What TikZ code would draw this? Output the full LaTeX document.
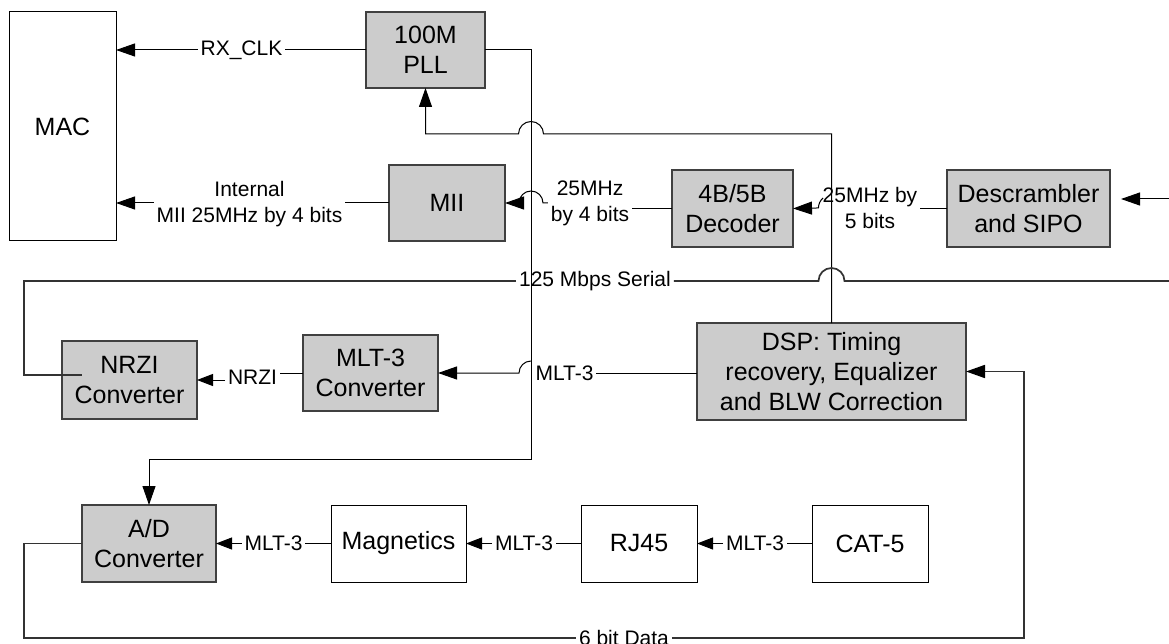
\documentclass[tikz,border=0pt]{standalone}
\usepackage{fontspec}
\setmainfont{Liberation Sans}
\usetikzlibrary{arrows.meta}
\definecolor{fillgray}{RGB}{204,204,204}
\definecolor{boxgray}{RGB}{64,64,64}
\definecolor{busgray}{RGB}{51,51,51}
\begin{document}
\begin{tikzpicture}[x=1pt,y=-1pt,
  gbox/.style={draw=boxgray, fill=fillgray, line width=1.2pt, inner sep=0pt, outer sep=0pt, align=center, font={\fontsize{25}{30}\selectfont}},
  wbox/.style={draw=black, fill=white, line width=1pt, inner sep=0pt, outer sep=0pt, align=center, font={\fontsize{25}{30}\selectfont}},
  lbl/.style={inner xsep=3pt, inner ysep=0pt, outer sep=0pt, align=center, font={\fontsize{21}{26}\selectfont}},
  wire/.style={line width=1pt, draw=black},
  bus/.style={line width=1.7pt, draw=busgray},
  arr/.style={-{Triangle[length=19pt,width=13pt,color=black]}},
  sarr/.style={-{Triangle[length=16pt,width=12pt,color=black]}}]
\useasboundingbox (0,0) rectangle (1169,644);
% boxes
\node[wbox, minimum width=107pt, minimum height=229pt] (mac) at (62.5,126.5) {MAC};
\node[gbox, minimum width=119pt, minimum height=76pt] (pll) at (425.5,50) {100M\\PLL};
\node[gbox, minimum width=116pt, minimum height=76pt] (mii) at (447,203) {MII};
\node[gbox, minimum width=121pt, minimum height=77pt] (dec) at (732.5,208.5) {4B/5B\\Decoder};
\node[gbox, minimum width=163pt, minimum height=77pt] (desc) at (1028.5,208.5) {Descrambler\\and SIPO};
\node[gbox, minimum width=135pt, minimum height=78pt] (nrzi) at (129.5,380) {NRZI\\Converter};
\node[gbox, minimum width=135pt, minimum height=76pt] (mlt) at (370.5,373) {MLT-3\\Converter};
\node[gbox, minimum width=269pt, minimum height=97pt] (dsp) at (831.5,371.5) {DSP: Timing\\recovery, Equalizer\\and BLW Correction};
\node[gbox, minimum width=134pt, minimum height=77pt] (ad) at (149,543.5) {A/D\\Converter};
\node[wbox, minimum width=135pt, minimum height=77pt] (mag) at (398.5,543.5) {Magnetics};
\node[wbox, minimum width=116pt, minimum height=77pt] (rj) at (639,543.5) {RJ45};
\node[wbox, minimum width=116pt, minimum height=77pt] (cat) at (870,543.5) {CAT-5};
% labels
\node[lbl] (lrx) at (241.5,50) {RX\_CLK};
\node[lbl] (lint) at (249.5,204) {Internal\\MII 25MHz by 4 bits};
\node[lbl] (l25a) at (590,203) {25MHz\\by 4 bits};
\node[lbl] (l25b) at (870,208) {25MHz by\\5 bits};
\node[lbl] (l125) at (595,281) {125 Mbps Serial};
\node[lbl] (lnrzi) at (252.5,377) {NRZI};
\node[lbl] (lm1) at (564.5,373) {MLT-3};
\node[lbl] (lm2) at (273.5,543.5) {MLT-3};
\node[lbl] (lm3) at (524,543.5) {MLT-3};
\node[lbl] (lm4) at (755,543.5) {MLT-3};
\node[lbl] (l6) at (624,638) {6 bit Data};
% coordinates
\coordinate (adturn) at (531,459);
\coordinate (fb) at (831.5,134);
\coordinate (serR) at (1169,281);
\coordinate (serL) at (24,281);
\coordinate (serD) at (24,375);
\coordinate (nrziIn) at (82,375);
\coordinate (dl) at (24,638);
\coordinate (dr) at (1024,638);
\coordinate (inR) at (1169,199);
% RX_CLK
\draw[wire] (pll.west) -- (lrx.east);
\draw[wire,arr] (lrx.west) -- (lrx.west -| mac.east);
% MII to MAC
\draw[wire] (mii.west) -- (lint.east |- mii.west);
\draw[wire,arr] (lint.west |- mii.west) -- (mac.east |- mii.west);
% PLL clock to A/D
\draw[wire,arr] (pll.east) -| (adturn) -| (ad.north);
% DSP to PLL
\draw[wire,arr] (dsp.north) -- (fb) -- (543.5,134) arc[start angle=0,end angle=180,radius=12.5pt] -- (pll.south |- fb) -- (pll.south);
% decoder to MII
\draw[wire] (dec.west) -- (l25a.east |- dec.west);
\draw[wire,arr] (l25a.west |- mii.east) -- (543,203) arc[start angle=0,end angle=180,radius=12pt] -- (mii.east);
% descrambler to decoder
\draw[wire] (desc.west) -- (l25b.east |- desc.west);
\draw[wire,arr] (823.1,198.0) arc[start angle=130,end angle=180,radius=13pt] -- (dec.east);
% input to descrambler
\draw[wire,arr,shorten >=11pt] (inR) -- (inR -| desc.east);
% 125 Mbps serial
\draw[bus] (serR) -- (844.5,281) arc[start angle=0,end angle=180,radius=13pt] -- (l125.east);
\draw[bus] (l125.west) -- (serL) -- (serD) -- (nrziIn);
% MLT-3 converter to NRZI
\draw[wire] (mlt.west) -- (lnrzi.east |- mlt.west);
\draw[wire,sarr] (lnrzi.west |- nrzi.east) -- (nrzi.east);
% DSP to MLT-3 converter
\draw[wire] (dsp.west |- lm1.east) -- (lm1.east);
\draw[wire,arr] (531,361) arc[start angle=90,end angle=180,radius=12pt] -- (mlt.east);
% bottom chain
\draw[wire] (cat.west) -- (lm4.east);
\draw[wire,sarr] (lm4.west) -- (rj.east);
\draw[wire] (rj.west) -- (lm3.east);
\draw[wire,sarr] (lm3.west) -- (mag.east);
\draw[wire] (mag.west) -- (lm2.east);
\draw[wire,sarr] (lm2.west) -- (ad.east);
% 6 bit data
\draw[bus] (ad.west) -| (dl) -- (l6.west);
\draw[bus,arr] (l6.east) -- (dr) |- (dsp.east);
\end{tikzpicture}
\end{document}
